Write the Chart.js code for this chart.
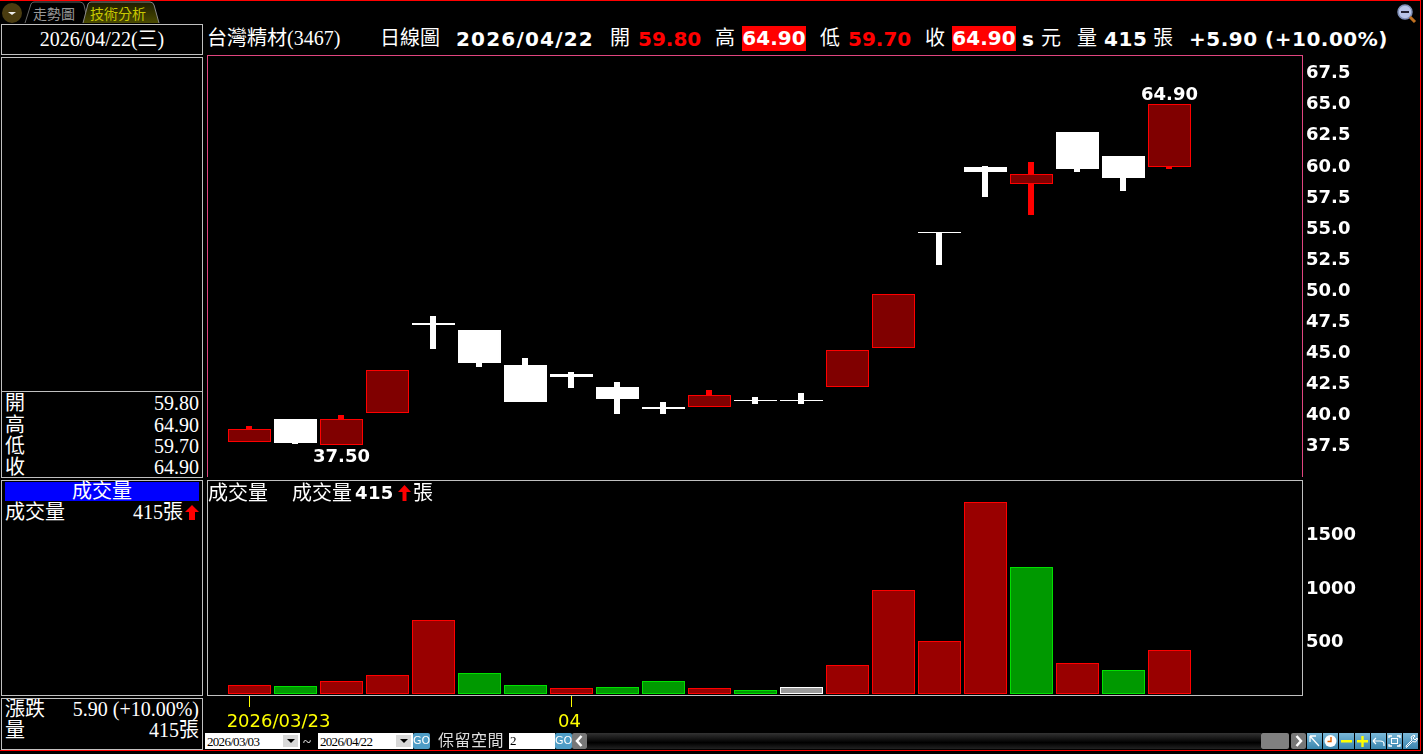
<!DOCTYPE html>
<html>
<head>
<meta charset="utf-8">
<script src="https://cdn.jsdelivr.net/npm/chart.js@4"></script>
<style>
html, body { margin: 0; padding: 0; background: #000; overflow: hidden; }
body { width: 1423px; height: 754px; position: relative; color: #fff;
  font-family: "Liberation Serif", "Noto Sans CJK TC", serif; font-size: 20px; }
canvas { position: absolute; display: block; }
.a { position: absolute; white-space: nowrap; line-height: 24px; }
.b { font-family: "DejaVu Sans", sans-serif; font-weight: bold; }
.r { color: #f00; }
.hl { background: #f00; color: #fff; height: 25px; line-height: 25px; text-align: center; }
.box { position: absolute; border: 1px solid #c0c0c0; box-sizing: border-box; }
.row { position: absolute; left: 5px; width: 194px; height: 22px; line-height: 22px; white-space: nowrap; }
.row span { position: absolute; right: 0; top: 0; }
.ctl { position: absolute; top: 733px; height: 16px; }
.sel { background: #fff; color: #000; font-size: 13px; line-height: 17px; width: 95px; letter-spacing: -0.7px; padding-left: 2px; box-sizing: border-box; }
.sel i { position: absolute; right: 2px; top: 2px; width: 15px; height: 12px; background: #d8d8d8; }
.sel i:after { content: ""; position: absolute; left: 4px; top: 4px; border: 4px solid transparent; border-top: 4px solid #000; }
.go { background: #4f9dc6; color: #fff; width: 17px; font: 11px/16px "DejaVu Sans"; text-align: center; border-radius: 2px; }
.btn { background: linear-gradient(#7ab8d8, #3a86ae); width: 15px; }
.btn svg { position: absolute; left: 0; top: 0; }
.nav { background: #777; width: 15px; border-radius: 2px; }
.nav svg { position: absolute; left: 0; top: 0; }
</style>
</head>
<body>
<!-- 外枠 -->
<div style="position:absolute;left:0;top:0;width:1421px;height:751px;border:1px solid #f00;border-width:1px 1px 1px 0;box-sizing:border-box"></div>

<!-- タブ -->
<svg style="position:absolute;left:0;top:0" width="170" height="24">
  <defs><linearGradient id="tabg" x1="0" y1="0" x2="0" y2="1"><stop offset="0" stop-color="#1c1c00"/><stop offset="1" stop-color="#4a4a00"/></linearGradient></defs>
  <circle cx="12" cy="13" r="10" fill="#4a3c10"/>
  <path d="M8 12h8l-4 3z" fill="#eee"/>
  <path d="M25 23 L31 4 Q32 2 34 2 L80 2 Q83 2 84 5 L88 23" fill="#000" stroke="#666"/>
  <path d="M83 23 L88 4 Q89 2 91 2 L150 2 Q153 2 154 5 L159 23" fill="url(#tabg)" stroke="#888"/>
  <text x="33" y="19" fill="#999" font-size="14" font-family="Noto Sans CJK TC">走勢圖</text>
  <text x="90" y="19" fill="#c8c800" font-size="14" font-family="Noto Sans CJK TC">技術分析</text>
</svg>
<svg style="position:absolute;left:1396px;top:2px" width="22" height="22">
  <circle cx="9" cy="10" r="7" fill="#b8c4e8" stroke="#8090b8" stroke-width="1.5"/>
  <rect x="5" y="9" width="8" height="2" fill="#223"/>
  <path d="M14 15l5 5" stroke="#c07020" stroke-width="3"/>
</svg>

<!-- 左パネル -->
<div class="box" style="left:1px;top:24px;width:202px;height:31px"></div>
<div class="a" style="left:2px;width:200px;top:27px;text-align:center">2026/04/22(三)</div>
<div class="box" style="left:1px;top:57px;width:202px;height:335px"></div>
<div class="box" style="left:1px;top:391px;width:202px;height:87px"></div>
<div class="row" style="top:392px">開<span>59.80</span></div>
<div class="row" style="top:414px">高<span>64.90</span></div>
<div class="row" style="top:435px">低<span>59.70</span></div>
<div class="row" style="top:456px">收<span>64.90</span></div>
<div class="box" style="left:1px;top:480px;width:202px;height:216px"></div>
<div class="a" style="left:5px;top:482px;width:194px;height:19px;line-height:19px;background:#00f;text-align:center">成交量</div>
<div class="row" style="top:501px">成交量<span style="right:16px">415張</span>
  <svg style="position:absolute;right:0;top:4px" width="14" height="15"><path d="M7 0L14 7H10V15H4V7H0z" fill="#f00"/></svg></div>
<div class="box" style="left:1px;top:698px;width:202px;height:52px"></div>
<div class="row" style="top:698px">漲跌<span>5.90 (+10.00%)</span></div>
<div class="row" style="top:719px">量<span>415張</span></div>

<!-- ヘッダ -->
<div class="a" style="left:207px;top:26px">台灣精材(3467)</div>
<div class="a" style="left:380px;top:26px">日線圖</div>
<div class="a b" style="left:456px;top:27px;letter-spacing:1.2px">2026/04/22</div>
<div class="a" style="left:610px;top:26px">開</div>
<div class="a b r" style="left:638px;top:27px">59.80</div>
<div class="a" style="left:715px;top:26px">高</div>
<div class="a b hl" style="left:742px;top:26px;width:64px">64.90</div>
<div class="a" style="left:820px;top:26px">低</div>
<div class="a b r" style="left:848px;top:27px">59.70</div>
<div class="a" style="left:925px;top:26px">收</div>
<div class="a b hl" style="left:952px;top:26px;width:64px">64.90</div>
<div class="a b" style="left:1022px;top:27px">s</div>
<div class="a" style="left:1041px;top:26px">元</div>
<div class="a" style="left:1077px;top:26px">量</div>
<div class="a b" style="left:1104px;top:27px;letter-spacing:0.6px">415</div>
<div class="a" style="left:1153px;top:26px">張</div>
<div class="a b" style="left:1189px;top:27px;letter-spacing:0.5px">+5.90 (+10.00%)</div>

<!-- グラフ -->
<canvas id="priceChart" width="1213" height="422" style="left:207px;top:55px"></canvas>
<canvas id="volumeChart" width="1213" height="255" style="left:207px;top:480px"></canvas>

<div class="a" style="left:208px;top:481px">成交量</div>
<div class="a" style="left:292px;top:481px">成交量</div>
<div class="a b" style="left:355px;top:481px;font-size:18px;letter-spacing:0.4px">415</div>
<svg style="position:absolute;left:398px;top:485px" width="13" height="16"><path d="M6.5 0L13 7H8.5V16H4.5V7H0z" fill="#f00"/></svg>
<div class="a" style="left:413px;top:481px">張</div>

<!-- 下部コントロール -->
<div class="ctl sel" style="left:205px">2026/03/03<i></i></div>
<div class="a" style="left:303px;top:730px;font-size:15px">~</div>
<div class="ctl sel" style="left:318px">2026/04/22<i></i></div>
<div class="ctl go" style="left:413px">GO</div>
<div class="a" style="left:438px;top:729px;font-size:16px;color:#ddd;letter-spacing:0.5px">保留空間</div>
<div class="ctl" style="left:509px;width:46px;background:#fff;color:#000;font-size:13px;line-height:15px;padding-left:1px;box-sizing:border-box">2</div>
<div class="ctl go" style="left:555px">GO</div>
<div class="ctl nav" style="left:572px"><svg width="15" height="16"><path d="M9.5 3L5 8l4.5 5" fill="none" stroke="#fff" stroke-width="2.5"/></svg></div>
<div class="ctl" style="left:587px;width:674px;background:linear-gradient(#333,#000 60%,#222)"></div>
<div class="ctl" style="left:1261px;width:28px;background:#808080;border-radius:2px"></div>
<div class="ctl nav" style="left:1291px"><svg width="15" height="16"><path d="M5.5 3L10 8l-4.5 5" fill="none" stroke="#fff" stroke-width="2.5"/></svg></div>
<div class="ctl btn" style="left:1307px"><svg width="15" height="16"><path d="M3 3h6M3 3v6M3 3l9 10" fill="none" stroke="#fff" stroke-width="1.3"/></svg></div>
<div class="ctl btn" style="left:1323px"><svg width="15" height="16"><circle cx="7.5" cy="8" r="6" fill="#fff"/><path d="M8 4v4.5H4.5" fill="none" stroke="#e06000" stroke-width="1.4"/></svg></div>
<div class="ctl btn" style="left:1339px"><svg width="15" height="16"><rect x="2" y="7" width="11" height="2.5" fill="#ff0"/></svg></div>
<div class="ctl btn" style="left:1355px"><svg width="15" height="16"><path d="M2 8.2h11M7.5 3v11" stroke="#ff0" stroke-width="2.4"/></svg></div>
<div class="ctl btn" style="left:1371px"><svg width="15" height="16"><path d="M2 8l3-3M2 8l3 3M2 8h7q4 0 4 3v2" fill="none" stroke="#fff" stroke-width="1.2"/></svg></div>
<div class="ctl btn" style="left:1387px"><svg width="15" height="16"><path d="M2 5V3h3M10 3h3v2M13 11v2h-3M5 13H2v-2" fill="none" stroke="#fff" stroke-width="1.3"/><rect x="4.5" y="5.5" width="6" height="5" fill="none" stroke="#fff"/></svg></div>
<div class="ctl btn" style="left:1403px"><svg width="15" height="16"><path d="M3 13l6-6-1-3 3-2 1 1-2 2 2 2 2-2 .5 1-2 3-3-.5-6 6z" fill="none" stroke="#fff"/></svg></div>

<script>
// 日足データ
const dates = ['2026/03/23','03/24','03/25','03/26','03/27','03/30','03/31','04/01','04/02','04/07','04/08','04/09','04/10','04/13','04/14','04/15','04/16','04/17','04/20','04/21','04/22'];
const opens  = [37.70,39.55,37.50,40.00,47.25,46.70,43.90,43.20,42.15,40.50,40.50,41.00,41.00,42.15,45.30,54.50,59.85,58.45,62.65,60.70,59.80];
const highs  = [39.00,39.55,39.90,43.50,47.85,46.70,44.45,43.35,42.55,40.90,41.90,41.35,41.65,45.10,49.60,54.50,59.90,60.25,62.65,60.70,64.90];
const lows   = [37.70,37.55,37.50,40.00,45.20,43.75,40.95,42.05,39.95,39.95,40.50,40.80,40.80,42.15,45.30,51.95,57.40,55.95,59.45,57.90,59.70];
const closes = [38.75,37.60,39.55,43.50,47.10,44.05,40.95,42.95,41.15,40.35,41.50,41.00,41.00,45.10,49.60,54.50,59.40,59.30,59.65,58.95,64.90];
const volumes = [84,75,121,178,692,196,84,56,65,121,56,37,65,271,972,495,1794,1187,290,224,415];
const volumeSides = ['up','down','up','up','up','down','down','up','down','down','up','down','flat','up','up','up','up','down','up','down','up'];
const priceTicks = [37.5,40,42.5,45,47.5,50,52.5,55,57.5,60,62.5,65,67.5];
const volumeTicks = [500,1000,1500];
const dateTicks = [0,7];
const dateTickLabels = ['2026/03/23','04'];

const axisFont = { family: '"DejaVu Sans"', size: 18, weight: 'bold' };
const sideFill = { up: '#990000', down: '#009900', flat: '#999999' };
const sideLine = { up: '#ff0000', down: '#00e000', flat: '#ffffff' };
const xRange = { min: -0.92391, max: 22.90217 };
const isUp = i => closes[i] > opens[i];

// パネル枠
const panelFrame = {
    id: 'panelFrame',
    afterDraw(chart, args, opts) {
        const a = chart.chartArea, ctx = chart.ctx;
        ctx.save();
        ctx.strokeStyle = opts.color;
        ctx.lineWidth = 1;
        ctx.strokeRect(a.left + 0.5, a.top + 0.5, a.width - 1, a.height);
        ctx.restore();
    }
};

// バーをピクセルに揃える
const snapBars = {
    id: 'snapBars',
    beforeDatasetsDraw(chart) {
        chart.data.datasets.forEach((ds, i) => {
            chart.getDatasetMeta(i).data.forEach(el => {
                el.y = Math.round(el.y);
                el.base = Math.round(el.base);
                if (ds.label === 'wick') el.x = Math.floor(el.x);
            });
        });
    }
};

// 最高値・最安値のラベル
const extremeLabels = {
    id: 'extremeLabels',
    afterDatasetsDraw(chart) {
        const ctx = chart.ctx, x = chart.scales.x, y = chart.scales.y;
        const hi = highs.indexOf(Math.max(...highs));
        const lo = lows.indexOf(Math.min(...lows));
        ctx.save();
        ctx.font = 'bold 18px "DejaVu Sans"';
        ctx.fillStyle = '#fff';
        ctx.textAlign = 'center';
        ctx.textBaseline = 'middle';
        ctx.fillText(highs[hi].toFixed(2), x.getPixelForValue(hi), y.getPixelForValue(highs[hi]) - 9);
        ctx.fillText(lows[lo].toFixed(2), x.getPixelForValue(lo), y.getPixelForValue(lows[lo]) + 13);
        ctx.restore();
    }
};

// 日付ラベル（先頭は目盛りの右寄り）
const dateLabels = {
    id: 'dateLabels',
    afterDraw(chart) {
        const ctx = chart.ctx, x = chart.scales.x;
        ctx.save();
        ctx.font = '18px "DejaVu Sans"';
        ctx.fillStyle = '#ffff00';
        ctx.textBaseline = 'middle';
        ctx.textAlign = 'center';
        ctx.fillText(dateTickLabels[0], x.getPixelForValue(dateTicks[0]) + 29, 242);
        ctx.fillText(dateTickLabels[1], x.getPixelForValue(dateTicks[1]) - 2, 242);
        ctx.restore();
    }
};

// ローソク足グラフ
new Chart(document.getElementById('priceChart').getContext('2d'), {
    type: 'bar',
    data: {
        datasets: [{
            label: 'body',
            order: 1,
            data: opens.map((o, i) => ({ x: i, y: [Math.min(o, closes[i]), Math.max(o, closes[i])] })),
            backgroundColor: opens.map((o, i) => isUp(i) ? '#800000' : '#ffffff'),
            borderColor: opens.map((o, i) => isUp(i) ? '#ff0000' : '#ffffff'),
            borderWidth: 1,
            borderSkipped: false,
            inflateAmount: 0,
            barThickness: 43,
            minBarLength: 1,
            grouped: false
        }, {
            label: 'wick',
            order: 2,
            data: highs.map((h, i) => ({ x: i, y: [lows[i], h] })),
            backgroundColor: opens.map((o, i) => isUp(i) ? '#ff0000' : '#ffffff'),
            borderWidth: 0,
            inflateAmount: 0,
            barThickness: 6,
            grouped: false
        }]
    },
    options: {
        responsive: false,
        animation: false,
        events: [],
        layout: { padding: 0 },
        scales: {
            x: { type: 'linear', offset: false, display: false, min: xRange.min, max: xRange.max, grid: { offset: false } },
            y: {
                position: 'right',
                min: 34.89,
                max: 68.84,
                grid: { display: false, drawTicks: false },
                border: { display: false },
                afterBuildTicks: s => { s.ticks = priceTicks.map(v => ({ value: v })); },
                afterFit: s => { s.width = 117; s.paddingTop = 0; s.paddingBottom = 0; },
                ticks: {
                    color: '#fff',
                    font: axisFont,
                    padding: 3,
                    labelOffset: 2,
                    autoSkip: false,
                    callback: v => v.toFixed(1)
                }
            }
        },
        plugins: { legend: { display: false }, tooltip: { enabled: false }, panelFrame: { color: '#e0457f' } }
    },
    plugins: [snapBars, panelFrame, extremeLabels]
});

// 成交量グラフ
new Chart(document.getElementById('volumeChart').getContext('2d'), {
    type: 'bar',
    data: {
        datasets: [{
            label: '成交量',
            data: volumes.map((v, i) => ({ x: i, y: v })),
            backgroundColor: volumeSides.map(s => sideFill[s]),
            borderColor: volumeSides.map(s => sideLine[s]),
            borderWidth: 1,
            borderSkipped: false,
            inflateAmount: 0,
            barThickness: 43,
            grouped: false
        }]
    },
    options: {
        responsive: false,
        animation: false,
        events: [],
        layout: { padding: 0 },
        scales: {
            x: {
                type: 'linear',
                offset: false,
                min: xRange.min,
                max: xRange.max,
                border: { display: false },
                grid: { offset: false, drawOnChartArea: false, color: '#ffff00', tickLength: 12 },
                afterBuildTicks: s => { s.ticks = dateTicks.map(v => ({ value: v })); },
                afterFit: s => { s.height = 40; s.paddingLeft = 0; s.paddingRight = 0; },
                ticks: { display: false, autoSkip: false, maxRotation: 0 }
            },
            y: {
                position: 'right',
                min: -9.35,
                max: 2000,
                grid: { display: false, drawTicks: false },
                border: { display: false },
                afterBuildTicks: s => { s.ticks = volumeTicks.map(v => ({ value: v })); },
                afterFit: s => { s.width = 117; s.paddingTop = 0; s.paddingBottom = 0; },
                ticks: { color: '#fff', font: axisFont, padding: 3, labelOffset: 2, autoSkip: false, callback: v => String(v) }
            }
        },
        plugins: { legend: { display: false }, tooltip: { enabled: false }, panelFrame: { color: '#c0c0c0' } }
    },
    plugins: [snapBars, panelFrame, dateLabels]
});
</script>
</body>
</html>
